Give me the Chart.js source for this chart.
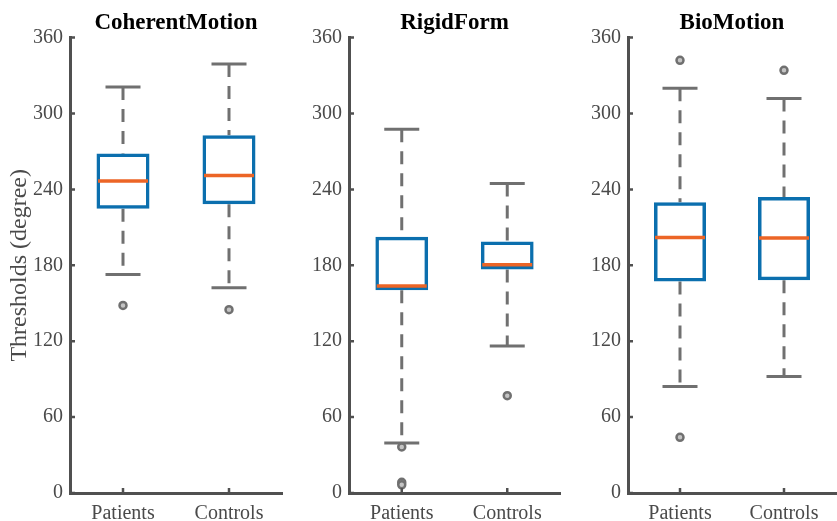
<!DOCTYPE html>
<html>
<head>
<meta charset="utf-8">
<script src="https://cdn.jsdelivr.net/npm/chart.js@4/dist/chart.umd.min.js"></script>
<style>
    html, body { margin: 0; padding: 0; background: #fff; }
    #wrap { position: relative; width: 837px; height: 521px; overflow: hidden; }
    #wrap canvas { position: absolute; top: 0; }
</style>
</head>
<body>
<div id="wrap">
    <canvas id="c1" width="290" height="521" style="left:0px"></canvas>
    <canvas id="c2" width="280" height="521" style="left:290px"></canvas>
    <canvas id="c3" width="267" height="521" style="left:570px"></canvas>
</div>
<script>
// 组别与刻度
const groups = ['Patients', 'Controls'];
const yTicks = [0, 60, 120, 180, 240, 300, 360];
const yTitle = 'Thresholds (degree)';

// CoherentMotion 箱线图数值 [Patients, Controls]
const coherentLow = [172.8, 162.3];
const coherentQ1 = [224.8, 228.2];
const coherentMed = [246.7, 250.9];
const coherentQ3 = [268.3, 282.8];
const coherentHigh = [321.0, 339.2];
const coherentOut = [[148.3], [144.9]];

// RigidForm
const rigidLow = [39.5, 116.2];
const rigidQ1 = [160.2, 176.6];
const rigidMed = [163.7, 180.5];
const rigidQ3 = [202.6, 198.9];
const rigidHigh = [287.5, 244.6];
const rigidOut = [[36.4, 8.5, 6.5], [76.9]];

// BioMotion
const bioLow = [84.1, 92.0];
const bioQ1 = [167.1, 168.1];
const bioMed = [201.9, 201.6];
const bioQ3 = [229.8, 234.0];
const bioHigh = [319.9, 311.8];
const bioOut = [[342.0, 44.0], [334.1]];

const boxColor = '#0B6FAE';
const medColor = '#EC6526';
const whiskerColor = '#707070';
const axisColor = '#505050';

Chart.defaults.font.family = "'Liberation Serif', 'Times New Roman', serif";
Chart.defaults.color = '#4a4a4a';

// 朝内的刻度线
const inwardTicks = {
    id: 'inwardTicks',
    afterDraw(chart) {
        const { ctx, scales: { x, y } } = chart;
        ctx.save();
        ctx.strokeStyle = axisColor;
        ctx.lineWidth = 2.5;
        ctx.beginPath();
        y.ticks.forEach((t, i) => {
            const py = y.getPixelForTick(i);
            ctx.moveTo(y.right, py);
            ctx.lineTo(y.right + 5, py);
        });
        x.ticks.forEach((t, i) => {
            const px = x.getPixelForTick(i);
            ctx.moveTo(px, x.top);
            ctx.lineTo(px, x.top - 5);
        });
        ctx.stroke();
        ctx.restore();
    }
};

function makePanel(id, title, low, q1, med, q3, high, outliers, showTitle, yWidth, padRight) {
    const whiskerData = groups.flatMap((g, i) => [
        { x: g, y: high[i] }, { x: g, y: q3[i] }, { x: g, y: null },
        { x: g, y: q1[i] }, { x: g, y: low[i] }, { x: g, y: null }
    ]);
    const capData = groups.flatMap((g, i) => [{ x: g, y: high[i] }, { x: g, y: low[i] }]);
    const medData = groups.map((g, i) => ({ x: g, y: med[i] }));
    const outData = groups.flatMap((g, i) => outliers[i].map(v => ({ x: g, y: v })));

    return new Chart(document.getElementById(id), {
        type: 'bar',
        data: {
            labels: groups,
            datasets: [
                {
                    type: 'bar',
                    data: groups.map((g, i) => [q1[i], q3[i]]),
                    backgroundColor: 'rgba(0,0,0,0)',
                    borderColor: boxColor,
                    borderWidth: 3.5,
                    borderSkipped: false,
                    barPercentage: 0.5,
                    categoryPercentage: 1,
                    order: 2
                },
                {
                    type: 'line',
                    data: whiskerData,
                    borderColor: whiskerColor,
                    borderWidth: 3,
                    borderDash: [13, 9],
                    pointRadius: 0,
                    spanGaps: false,
                    order: 3
                },
                {
                    type: 'line',
                    data: capData,
                    showLine: false,
                    pointStyle: 'line',
                    pointRadius: 17.5,
                    pointBorderWidth: 3,
                    pointBorderColor: whiskerColor,
                    order: 1
                },
                {
                    type: 'line',
                    data: medData,
                    showLine: false,
                    pointStyle: 'line',
                    pointRadius: 25,
                    pointBorderWidth: 3.5,
                    pointBorderColor: medColor,
                    order: 0
                },
                {
                    type: 'line',
                    data: outData,
                    showLine: false,
                    pointStyle: 'circle',
                    pointRadius: 3.5,
                    pointBorderWidth: 2.5,
                    pointBorderColor: whiskerColor,
                    pointBackgroundColor: '#c4c4c4',
                    order: 0
                }
            ]
        },
        options: {
            responsive: false,
            animation: false,
            events: [],
            layout: { autoPadding: false, padding: { left: 0, right: padRight, top: 0, bottom: 0 } },
            plugins: {
                legend: { display: false },
                tooltip: { enabled: false },
                title: {
                    display: true,
                    text: title,
                    fullSize: false,
                    color: '#000',
                    font: { size: 23, weight: 'bold' },
                    padding: { top: 9, bottom: 1 }
                }
            },
            scales: {
                x: {
                    type: 'category',
                    offset: true,
                    grid: { display: false, tickLength: 0 },
                    border: { display: true, color: axisColor, width: 3 },
                    ticks: { font: { size: 20 }, padding: 9, color: '#4a4a4a' },
                    afterFit(scale) {
                        scale.height = 28;
                        scale.paddingLeft = 0;
                        scale.paddingRight = 0;
                    }
                },
                y: {
                    min: 0,
                    max: 360,
                    grid: { display: false, tickLength: 0 },
                    border: { display: true, color: axisColor, width: 3 },
                    ticks: { font: { size: 20 }, padding: 7, color: '#4a4a4a' },
                    afterBuildTicks(scale) { scale.ticks = yTicks.map(v => ({ value: v })); },
                    afterFit(scale) { scale.width = yWidth; },
                    title: {
                        display: showTitle,
                        text: yTitle,
                        color: '#4a4a4a',
                        font: { size: 24 },
                        padding: { top: 5, bottom: 0 }
                    }
                }
            }
        },
        plugins: [inwardTicks]
    });
}

makePanel('c1', 'CoherentMotion', coherentLow, coherentQ1, coherentMed, coherentQ3, coherentHigh, coherentOut, true, 70, 8);
makePanel('c2', 'RigidForm', rigidLow, rigidQ1, rigidMed, rigidQ3, rigidHigh, rigidOut, false, 59, 10);
makePanel('c3', 'BioMotion', bioLow, bioQ1, bioMed, bioQ3, bioHigh, bioOut, false, 58, 1);
</script>
</body>
</html>
